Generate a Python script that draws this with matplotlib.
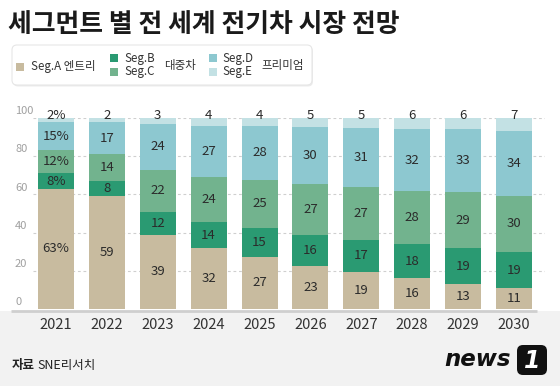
import matplotlib
matplotlib.use("Agg")
import matplotlib.pyplot as plt
import matplotlib.transforms as mtransforms
from matplotlib.patches import Rectangle, FancyBboxPatch
import numpy as np

plt.rcParams['font.family'] = ['Noto Sans CJK KR', 'DejaVu Sans']

years = ["2021", "2022", "2023", "2024", "2025", "2026", "2027", "2028", "2029", "2030"]
seg_a = [63, 59, 39, 32, 27, 23, 19, 16, 13, 11]
seg_b = [8, 8, 12, 14, 15, 16, 17, 18, 19, 19]
seg_c = [12, 14, 22, 24, 25, 27, 27, 28, 29, 30]
seg_d = [15, 17, 24, 27, 28, 30, 31, 32, 33, 34]
seg_e = [2, 2, 3, 4, 4, 5, 5, 6, 6, 7]
yticks = [0, 20, 40, 60, 80, 100]

title = "세그먼트 별 전 세계 전기차 시장 전망"
colors = ["#c8bb9f", "#2a9a72", "#72b38e", "#8dc8d0", "#c3e1e4"]

W, H = 560, 386
fig = plt.figure(figsize=(W / 100, H / 100), dpi=100)
fig.patch.set_facecolor("white")
pxT = mtransforms.Affine2D().scale(1 / W, -1 / H).translate(0, 1) + fig.transFigure

# gray bottom band
fig.patches.append(Rectangle((0, 311), W, H - 311, transform=pxT, facecolor="#f2f2f2",
                             edgecolor="none", zorder=-5))

ax = fig.add_axes([11 / W, 77 / H, 534 / W, 191 / H])
ax.set_facecolor("none")
ax.set_xlim(-0.884, 9.61)
ax.set_ylim(0, 100)
ax.axis("off")
ax.set_zorder(1)

series = [seg_a, seg_b, seg_c, seg_d, seg_e]
data = np.array(series, dtype=float)
totals = data.sum(axis=0)
norm = data / totals * 100
x = np.arange(len(years))

# gridlines
for t in yticks[1:]:
    ax.hlines(t, -0.452, 9.61, colors="#cfcfcf", linestyles=(0, (2.5, 2.5)), lw=0.8, zorder=0)
for t in yticks:
    ax.text(-0.805, t + 3.6, str(t), ha="left", va="center", fontsize=8, color="#a0a0a0")

bottom = np.zeros(len(years))
for k in range(5):
    ax.bar(x, norm[k], bottom=bottom, width=0.707, color=colors[k], zorder=2, lw=0)
    for i in range(len(years)):
        val = series[k][i]
        lab = f"{val}%" if i == 0 else str(val)
        if k == 4:
            yy = 101.5
        else:
            yy = bottom[i] + norm[k][i] / 2
        ax.text(x[i], yy, lab, ha="center", va="center", fontsize=9.5, color="#2b2b2b",
                zorder=3, clip_on=False)
    bottom += norm[k]

# baseline
ax.plot([-0.884, 9.45], [-1, -1], color="#cfcfcf", lw=2, clip_on=False, zorder=1,
        solid_capstyle="butt")
for i, yl in enumerate(years):
    ax.text(x[i], -8.4, yl, ha="center", va="center", fontsize=10.5, color="#333333",
            clip_on=False)

# title
fig.text(8, 24, title, transform=pxT, fontsize=18.6, fontweight="bold", color="#1a1a1a",
         ha="left", va="center")

# legend box
fig.patches.append(FancyBboxPatch((13, 46.5), 300, 40, boxstyle="round,pad=0,rounding_size=5",
                                  transform=pxT, facecolor="#ececec", edgecolor="none",
                                  lw=0, zorder=0.5))
fig.patches.append(FancyBboxPatch((12, 45), 300, 40, boxstyle="round,pad=0,rounding_size=5",
                                  transform=pxT, facecolor="white", edgecolor="#e6e6e6",
                                  lw=0.8, zorder=1))

def sq(xc, yc, c):
    fig.patches.append(Rectangle((xc - 4, yc - 4), 8, 8, transform=pxT, facecolor=c,
                                 edgecolor="none", zorder=2))

lc = "#333333"
lfs = 8.3
sq(20, 66.5, colors[0])
fig.text(31, 66.5, "Seg.A 엔트리", transform=pxT, fontsize=lfs, color=lc, va="center", ha="left")
sq(114, 58, colors[1])
sq(114, 71.5, colors[2])
fig.text(124, 58.5, "Seg.B", transform=pxT, fontsize=lfs, color=lc, va="center", ha="left")
fig.text(124, 72, "Seg.C", transform=pxT, fontsize=lfs, color=lc, va="center", ha="left")
fig.text(164, 66, "대중차", transform=pxT, fontsize=lfs, color=lc, va="center", ha="left")
sq(212.5, 58, colors[3])
sq(212.5, 71.5, colors[4])
fig.text(222, 58.5, "Seg.D", transform=pxT, fontsize=lfs, color=lc, va="center", ha="left")
fig.text(222, 72, "Seg.E", transform=pxT, fontsize=lfs, color=lc, va="center", ha="left")
fig.text(261, 66, "프리미엄", transform=pxT, fontsize=lfs, color=lc, va="center", ha="left")

# source
fig.text(12, 366, "자료", transform=pxT, fontsize=9, fontweight="bold", color="#222222",
         va="center", ha="left")
fig.text(37, 366, "SNE리서치", transform=pxT, fontsize=9, color="#222222", va="center", ha="left")

# logo
fig.text(444, 359, "news", transform=pxT, fontsize=16.5, fontweight="heavy", style="italic",
         family="DejaVu Sans", color="#111111", va="center", ha="left")
fig.patches.append(FancyBboxPatch((517, 345), 30, 30, boxstyle="round,pad=0,rounding_size=6",
                                  transform=pxT, facecolor="#111111", edgecolor="none", zorder=2))
fig.text(532, 361, "1", transform=pxT, fontsize=17, fontweight="bold", style="italic",
         family="DejaVu Sans", color="white", va="center", ha="center", zorder=3)

fig.savefig("out.png", dpi=100)
